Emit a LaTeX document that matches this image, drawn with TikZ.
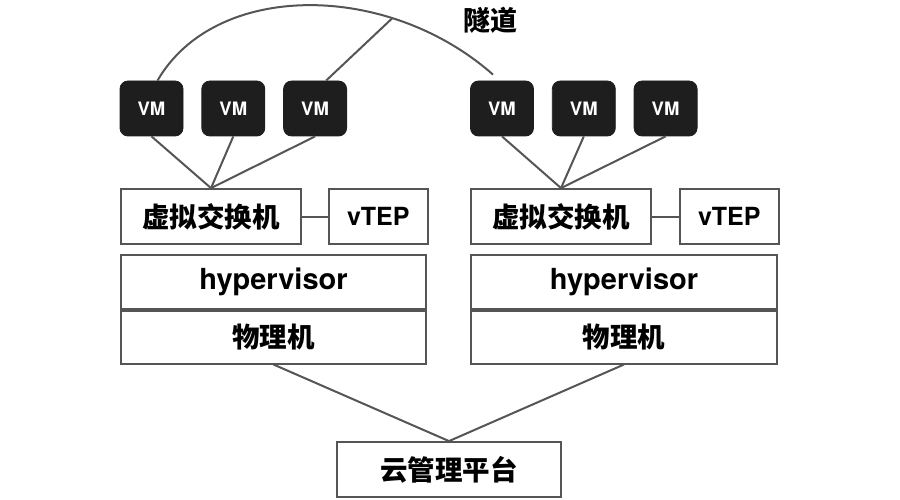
\documentclass[tikz,border=0pt]{standalone}
\usepackage{fontspec}
\setmainfont{TeX Gyre Heros}
\newfontfamily\cjk{Noto Sans CJK SC}
\usetikzlibrary{positioning}
\definecolor{linegray}{HTML}{555555}
\definecolor{vmfill}{HTML}{1E1E1E}

\begin{document}
\begin{tikzpicture}[x=1pt,y=-1pt,thick,
  vm node/.style={draw=vmfill,fill=vmfill,rounded corners=8pt,minimum width=63pt,minimum height=55pt,inner sep=0pt,text=white,font=\bfseries\fontsize{18.5}{20}\selectfont},
  box node/.style={draw=linegray,line width=1.8pt,inner sep=0pt,minimum height=55pt,font=\cjk\bfseries\fontsize{27.5}{30}\selectfont},
  latin/.style={font=\bfseries\fontsize{#1}{30}\selectfont},
  link/.style={draw=linegray,line width=2pt}]

            \useasboundingbox (0,0) rectangle (900,500);

            % left host
            \node[vm node] (vm1) at (151.5,108.5) {VM};
            \node[vm node] (vm2) [right=18pt of vm1] {VM};
            \node[vm node] (vm3) [right=18pt of vm2] {VM};
            \node[box node, minimum width=180pt] (sw1) at (211,216.5) {虚拟交换机};
            \node[box node, latin=25, minimum width=99pt] (vtep1) [right=26pt of sw1] {vTEP};
            \node[box node, latin=29, minimum width=305pt, minimum height=54pt] (hv1) [below=9pt of sw1.south west, anchor=north west] {hypervisor};
            \node[box node, minimum width=305pt, minimum height=53pt] (pm1) [below=0pt of hv1] {物理机};

            % right host
            \node[vm node] (vm4) at (502,108.5) {VM};
            \node[vm node] (vm5) [right=18pt of vm4] {VM};
            \node[vm node] (vm6) [right=18pt of vm5] {VM};
            \node[box node, minimum width=180pt] (sw2) at (561,216.5) {虚拟交换机};
            \node[box node, latin=25, minimum width=99pt] (vtep2) [right=27pt of sw2] {vTEP};
            \node[box node, latin=29, minimum width=306pt, minimum height=54pt] (hv2) [below=9pt of sw2.south west, anchor=north west] {hypervisor};
            \node[box node, minimum width=306pt, minimum height=53pt] (pm2) [below=0pt of hv2] {物理机};

            \node[box node, minimum width=224pt] (cloud) at (449,469.5) {云管理平台};

            \foreach \v in {vm1,vm2,vm3} \draw[link] (\v.south) -- (sw1.north);
            \foreach \v in {vm4,vm5,vm6} \draw[link] (\v.south) -- (sw2.north);
            \draw[link] (sw1) -- (vtep1);
            \draw[link] (sw2) -- (vtep2);
            \draw[link] (pm1.south) -- (cloud.north);
            \draw[link] (pm2.south) -- (cloud.north);

            % tunnel
            \draw[link] ([xshift=6pt]vm1.north) .. controls (215,-19) and (387,-19) .. ([xshift=-9pt,yshift=6pt]vm4.north)
                coordinate[pos=0.72] (tp);
            \draw[link] ([xshift=11pt]vm3.north) -- (tp);
            \node[font=\cjk\bfseries\fontsize{27}{30}\selectfont] (tunnel) at (490,20) {隧道};

            ;
        \end{tikzpicture}
\end{document}
